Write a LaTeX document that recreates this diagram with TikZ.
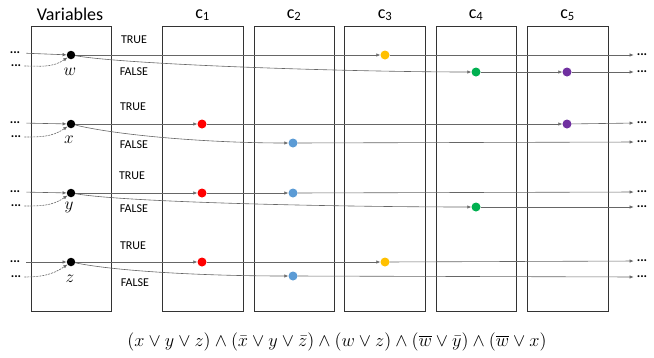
\documentclass[tikz,border=0pt]{standalone}
\usepackage{amsmath}
\usepackage{fontspec}
\setmainfont{Carlito}
\usetikzlibrary{arrows.meta}
\definecolor{cred}{HTML}{FF0000}
\definecolor{cblue}{HTML}{5B9BD5}
\definecolor{cyellow}{HTML}{FFC000}
\definecolor{cgreen}{HTML}{00B050}
\definecolor{cpurple}{HTML}{7030A0}
\begin{document}
\begin{tikzpicture}[x=1pt,y=-1pt,
  box/.style={draw=black!80, line width=0.9pt},
  vdot/.style={circle, fill=black, inner sep=0pt, minimum size=8.5pt},
  cdot/.style={circle, fill=#1, inner sep=0pt, minimum size=9pt},
  wire/.style={draw=black!60, line width=0.6pt, -{Latex[length=4pt,width=3.5pt]}},
  lwire/.style={wire, shorten <=6pt},
  dwire/.style={wire, dashed, dash pattern=on 2pt off 1pt, shorten <=3pt},
  rwire/.style={wire, shorten >=3pt},
  ell/.style={font=\bfseries\fontsize{13}{13}\selectfont, inner sep=0pt},
  tf/.style={font=\fontsize{12}{12}\selectfont},
  hd/.style={font=\fontsize{18}{18}\selectfont},
  var/.style={font=\fontsize{16}{16}\selectfont}
]
\useasboundingbox (0,0) rectangle (654,357);
% boxes
\draw[box] (31.5,26) rectangle (111.5,311);
\foreach \l in {162.5,254,344.5,436,527.5}
  \draw[box] (\l,26) rectangle ++(80.5,285);
% headers
\node[hd] (hv) at (70,14) {Variables};
\node[hd] (h1) at (202.5,15) {c\textsubscript{1}};
\node[hd] (h2) at (294,15) {c\textsubscript{2}};
\node[hd] (h3) at (385,15) {c\textsubscript{3}};
\node[hd] (h4) at (476,15) {c\textsubscript{4}};
\node[hd] (h5) at (567.5,15) {c\textsubscript{5}};
% TRUE / FALSE labels
\node[tf] at (134,40) {TRUE};
\node[tf] at (134,72) {FALSE};
\node[tf] at (133,107) {TRUE};
\node[tf] at (134,145) {FALSE};
\node[tf] at (132,176) {TRUE};
\node[tf] at (134,209) {FALSE};
\node[tf] at (133,246) {TRUE};
\node[tf] at (135,283) {FALSE};
% variable dots
\node[vdot] (w) at (71,55) {};
\node[vdot] (x) at (71,124) {};
\node[vdot] (y) at (71,193) {};
\node[vdot] (z) at (71,262) {};
\node[var] at (70,72) {$w$};
\node[var] at (69,140) {$x$};
\node[var] at (69,207) {$y$};
\node[var] at (70,279) {$z$};
% clause dots
\node[cdot=cyellow] (w3) at (385,55) {};
\node[cdot=cgreen] (w4) at (476,72) {};
\node[cdot=cpurple] (w5) at (567,72) {};
\node[cdot=cred] (x1) at (202,124) {};
\node[cdot=cpurple] (x5) at (567,124) {};
\node[cdot=cblue] (x2) at (293,143) {};
\node[cdot=cred] (y1) at (202,193) {};
\node[cdot=cblue] (y2) at (293,193) {};
\node[cdot=cgreen] (y4) at (476,207) {};
\node[cdot=cred] (z1) at (202,262) {};
\node[cdot=cyellow] (z3) at (385,262) {};
\node[cdot=cblue] (z2) at (293,276) {};
% left ellipses
\node[ell] (wa) at (15,53) {...};
\node[ell] (wb) at (16,66) {...};
\node[ell] (xa) at (15,123) {...};
\node[ell] (xb) at (16,137) {...};
\node[ell] (ya) at (15,192) {...};
\node[ell] (yb) at (16,206) {...};
\node[ell] (za) at (15,262) {...};
\node[ell] (zb) at (16,277) {...};
% right ellipses
\node[ell] (wt) at (642,55) {...};
\node[ell] (wf) at (642,72) {...};
\node[ell] (xt) at (642,123) {...};
\node[ell] (xf) at (642,142) {...};
\node[ell] (yt) at (642,192) {...};
\node[ell] (yf) at (642,207) {...};
\node[ell] (zt) at (642,261) {...};
\node[ell] (zf) at (642,277) {...};
% incoming wires
\foreach \a/\b/\v in {wa/wb/w, xa/xb/x, ya/yb/y, za/zb/z}{
  \draw[lwire] (\a.east) -- (\v);
  \draw[dwire] (\b.east) to[out=0,in=215] (\v);
}
% w
\draw[wire] (w) -- (w3);
\draw[rwire] (w3) -- (wt.west);
\draw[wire] (w) .. controls +(60,10) and +(-120,0) .. (w4);
\draw[wire] (w4) -- (w5);
\draw[rwire] (w5) -- (wf.west);
% x
\draw[wire] (x) -- (x1);
\draw[wire] (x1) -- (x5);
\draw[rwire] (x5) -- (xt.west);
\draw[wire] (x) .. controls +(50,12) and +(-80,0) .. (x2);
\draw[rwire] (x2) -- (xf.west);
% y
\draw[wire] (y) -- (y1);
\draw[wire] (y1) -- (y2);
\draw[rwire] (y2) -- (yt.west);
\draw[wire] (y) .. controls +(60,10) and +(-120,0) .. (y4);
\draw[rwire] (y4) -- (yf.west);
% z
\draw[wire] (z) -- (z1);
\draw[wire] (z1) -- (z3);
\draw[rwire] (z3) -- (zt.west);
\draw[wire] (z) .. controls +(50,10) and +(-80,0) .. (z2);
\draw[rwire] (z2) -- (zf.west);
% formula
\node[scale=1.27] (f) at (337,342) {\fontsize{14}{14}\selectfont $(x\vee y\vee z)\wedge(\bar{x}\vee y\vee\bar{z})\wedge(w\vee z)\wedge(\overline{w}\vee\bar{y})\wedge(\overline{w}\vee x)$};
\end{tikzpicture}
\end{document}
